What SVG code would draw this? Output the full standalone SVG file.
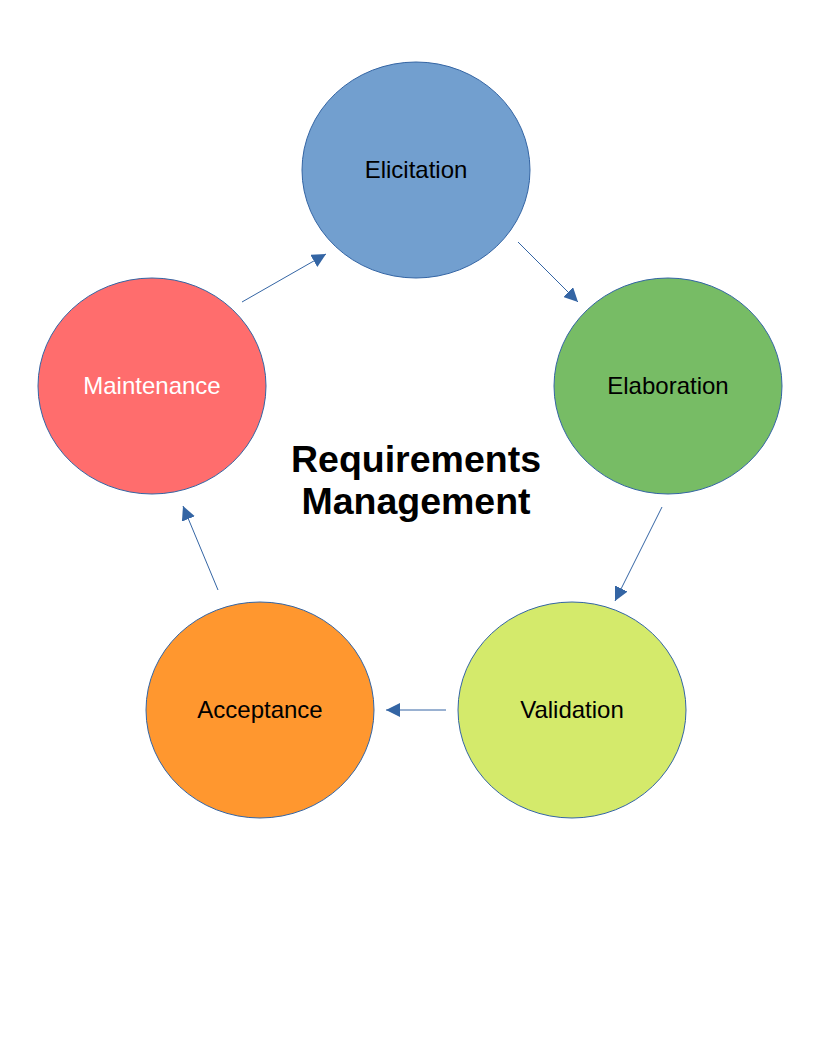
<svg xmlns="http://www.w3.org/2000/svg" width="816" height="1056" viewBox="0 0 816 1056">
<defs>
<style>
.node ellipse{stroke:#3465a4;stroke-width:1}
.lbl{font-family:"Liberation Sans",Arial,sans-serif;font-size:24px;text-anchor:middle}
.title{font-family:"Liberation Sans",Arial,sans-serif;font-size:37.5px;font-weight:bold;text-anchor:middle;fill:#000}
.conn line{stroke:#3465a4;stroke-width:1;marker-end:url(#arr)}
</style>
<marker id="arr" viewBox="0 0 10 10" refX="10" refY="5" markerWidth="14" markerHeight="14" markerUnits="userSpaceOnUse" orient="auto">
<path d="M0,0 L10,5 L0,10 z" fill="#3465a4"/>
</marker>
</defs>
<rect width="816" height="1056" fill="#fff"/>
<g id="connectors" class="conn">
<line x1="518" y1="242" x2="578" y2="302"/>
<line x1="662" y1="507" x2="615" y2="601"/>
<line x1="446" y1="710" x2="386" y2="710"/>
<line x1="218" y1="590" x2="183" y2="506"/>
<line x1="242" y1="302" x2="326" y2="254"/>
</g>
<g id="elicitation" class="node">
<ellipse cx="416" cy="170" rx="114" ry="108" fill="#729fcf"/>
<text class="lbl" x="416" y="178" fill="#000">Elicitation</text>
</g>
<g id="elaboration" class="node">
<ellipse cx="668" cy="386" rx="114" ry="108" fill="#77bc65"/>
<text class="lbl" x="668" y="394" fill="#000">Elaboration</text>
</g>
<g id="validation" class="node">
<ellipse cx="572" cy="710" rx="114" ry="108" fill="#d4ea6b"/>
<text class="lbl" x="572" y="718" fill="#000">Validation</text>
</g>
<g id="acceptance" class="node">
<ellipse cx="260" cy="710" rx="114" ry="108" fill="#ff972f"/>
<text class="lbl" x="260" y="718" fill="#000">Acceptance</text>
</g>
<g id="maintenance" class="node">
<ellipse cx="152" cy="386" rx="114" ry="108" fill="#ff6d6d"/>
<text class="lbl" x="152" y="394" fill="#fff">Maintenance</text>
</g>
<g id="title">
<text class="title" x="416" y="472">Requirements</text>
<text class="title" x="416" y="514">Management</text>
</g>
</svg>
